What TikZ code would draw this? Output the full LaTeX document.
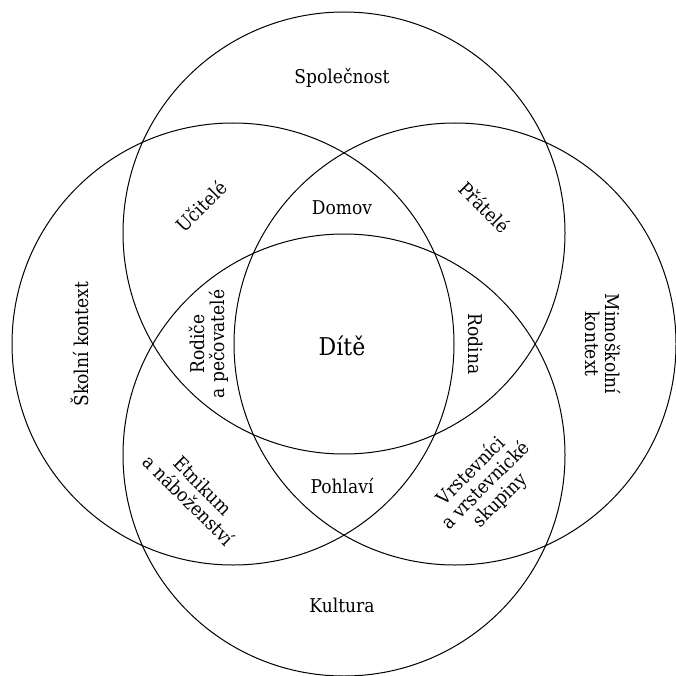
\documentclass[tikz,border=0pt]{standalone}
\usepackage{fontspec}
\setmainfont[FakeStretch=0.9]{DejaVu Serif}
\begin{document}
\begin{tikzpicture}[x=1pt,y=-1pt,
  ring/.style={draw, circle, line width=1pt, inner sep=0pt, minimum size=442pt},
  lbl/.style={font=\fontsize{19}{20.5}\selectfont, align=center, inner sep=1pt}]
\useasboundingbox (0,0) rectangle (675,676);
% four overlapping spheres of influence
\node[ring] (top)    at (344,233) {};
\node[ring] (bottom) at (344,455) {};
\node[ring] (left)   at (233,344) {};
\node[ring] (right)  at (455,344) {};
% labels
\node[lbl] (soc)     at (342,78)  {Společnost};
\node[lbl] (domov)   at (342,208) {Domov};
\node[lbl, rotate=45]  (ucitele) at (201,206) {Učitelé};
\node[lbl, rotate=-45] (pratele) at (485,207) {Přátelé};
\node[lbl, rotate=90]  (skolni)  at (80,344)  {Školní kontext};
\node[lbl, rotate=-90] (mimo)    at (603,344) {Mimoškolní\\kontext};
\node[lbl, rotate=90]  (rodice)  at (209,344) {Rodiče\\a pečovatelé};
\node[lbl, rotate=-90] (rodina)  at (476,344) {Rodina};
\node[lbl, font=\fontsize{24.5}{28}\selectfont] (dite) at (342,346) {Dítě};
\node[lbl, rotate=-45] (etnikum) at (196,493) {Etnikum\\a náboženství};
\node[lbl] (pohlavi) at (342,486) {Pohlaví};
\node[lbl, rotate=45]  (vrst)    at (486,486) {Vrstevníci\\a vrstevnické\\skupiny};
\node[lbl] (kultura) at (342,605) {Kultura};
\end{tikzpicture}
\end{document}
